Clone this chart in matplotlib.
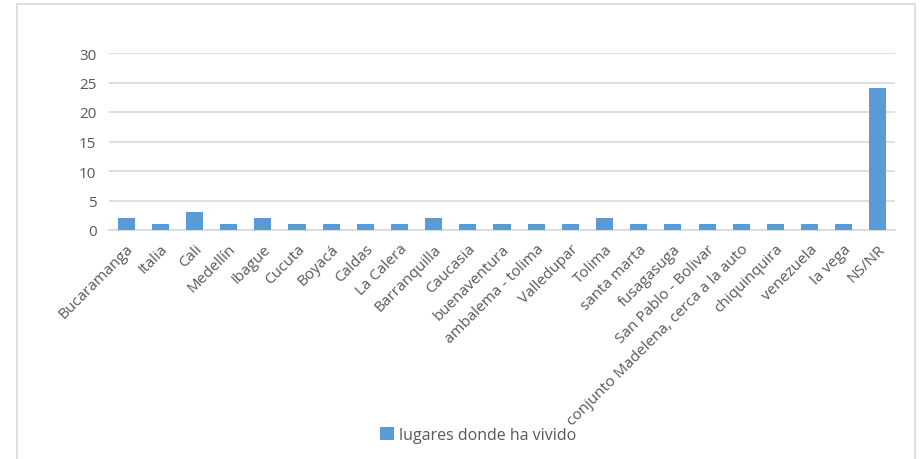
import matplotlib
matplotlib.use("Agg")
import matplotlib.pyplot as plt
from matplotlib.patches import Rectangle

lugares = ["Bucaramanga", "Italia", "Cali", "Medellín", "Ibague", "Cucuta",
           "Boyacá", "Caldas", "La Calera", "Barranquilla", "Caucasia",
           "buenaventura", "ambalema - tolima", "Valledupar", "Tolima",
           "santa marta", "fusagasuga", "San Pablo - Bolivar",
           "conjunto Madelena, cerca a la auto", "chiquinquira", "venezuela",
           "la vega", "NS/NR"]
conteo = [2, 1, 3, 1, 2, 1, 1, 1, 1, 2, 1, 1, 1, 1, 2, 1, 1, 1, 1, 1, 1, 1, 24]
y_ticks = [0, 5, 10, 15, 20, 25, 30]
serie = "lugares donde ha vivido"

plt.rcParams['font.family'] = ['Open Sans', 'DejaVu Sans']
texto = "#595959"

fig = plt.figure(figsize=(9.21, 4.60), dpi=100)
# borde del área del gráfico
fig.patches.append(Rectangle((17 / 921, -0.05), (915 - 17) / 921, 1 - 5 / 460 + 0.05,
                             transform=fig.transFigure, fill=False,
                             edgecolor="#D9D9D9", linewidth=1.2))

ax = fig.add_axes([109 / 921, 1 - 231 / 460, (895 - 109) / 921, (231 - 54) / 460])
x = range(len(lugares))
barras = ax.bar(x, conteo, width=0.5, color="#5B9BD5", label=serie, zorder=3)

ax.set_xlim(-0.5, len(lugares) - 0.5)
ax.set_ylim(0, 30)
ax.set_yticks(y_ticks)
ax.yaxis.grid(True, color="#D9D9D9", linewidth=1.2, zorder=0)
ax.set_xticks(list(x))
ax.set_xticklabels(lugares, rotation=45, ha="right", va="top",
                   rotation_mode="anchor", fontsize=11, color=texto)
ax.tick_params(axis="y", labelsize=11, colors=texto, length=0, pad=9)
ax.tick_params(axis="x", length=0, pad=8)
for s in ["top", "right", "left"]:
    ax.spines[s].set_visible(False)
ax.spines["bottom"].set_color("#D9D9D9")
ax.spines["bottom"].set_linewidth(1.2)

fig.legend(handles=[barras], labels=[serie], loc="center",
           bbox_to_anchor=(478 / 921, 1 - 436 / 460), frameon=False,
           fontsize=11.5, labelcolor=texto, handlelength=0.9, handleheight=0.9,
           handletextpad=0.3)

fig.savefig("out.png", dpi=100)
